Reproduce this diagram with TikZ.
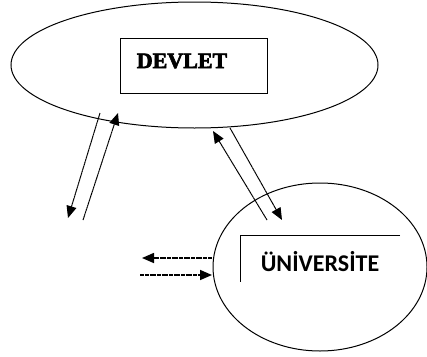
\documentclass[tikz,border=0pt]{standalone}
\usepackage{fontspec}
\usepackage{tikz}
\usetikzlibrary{arrows.meta,shapes.geometric}
\newfontfamily\devletfont{Liberation Serif}[BoldFeatures={FakeBold=3}]
\newfontfamily\unifont{Carlito}

\begin{document}
\begin{tikzpicture}[x=1pt,y=-1pt,
  link/.style={draw,line width=1pt,dash pattern=on 2pt off 0.4pt,-{Triangle[length=12pt,width=10pt]}},
  blob/.style={draw,ellipse,line width=1pt,inner sep=0pt}]
\useasboundingbox (0,0) rectangle (427,356);
\node at (194.5,65) (devlet)[blob,minimum width=367pt,minimum height=126pt]{};
\node at (193.5,65.5) (box)[draw,line width=1pt,minimum width=147pt,minimum height=55pt]{};
\node at (182,61) (dtext){\fontsize{22}{22}\selectfont\devletfont\bfseries DEVLET};
\node at (320,267) (uni)[blob,minimum width=214pt,minimum height=168pt]{};
\node at (320,262) (utext){\fontsize{24}{24}\selectfont\unifont\bfseries ÜNİVERSİTE};
\draw[line width=1pt] (400,235) -- (240,235) -- (240,282);

\coordinate (l1s) at (100,113); \coordinate (l1e) at (68,218);
\coordinate (l2s) at (83,220);  \coordinate (l2e) at (118,113);
\coordinate (r1s) at (267,220); \coordinate (r1e) at (213,131);
\coordinate (r2s) at (230,128); \coordinate (r2e) at (282,220);
\coordinate (h1s) at (212,258); \coordinate (h1e) at (142,258);
\coordinate (h2s) at (140,275); \coordinate (h2e) at (212,275);
\path (l1s) edge[link] (l1e) (l2s) edge[link] (l2e);
\path (r1s) edge[link] (r1e) (r2s) edge[link] (r2e);
\path (h1s) edge[link,line width=1.6pt] (h1e) (h2s) edge[link,line width=1.6pt] (h2e);
\end{tikzpicture}
\end{document}
